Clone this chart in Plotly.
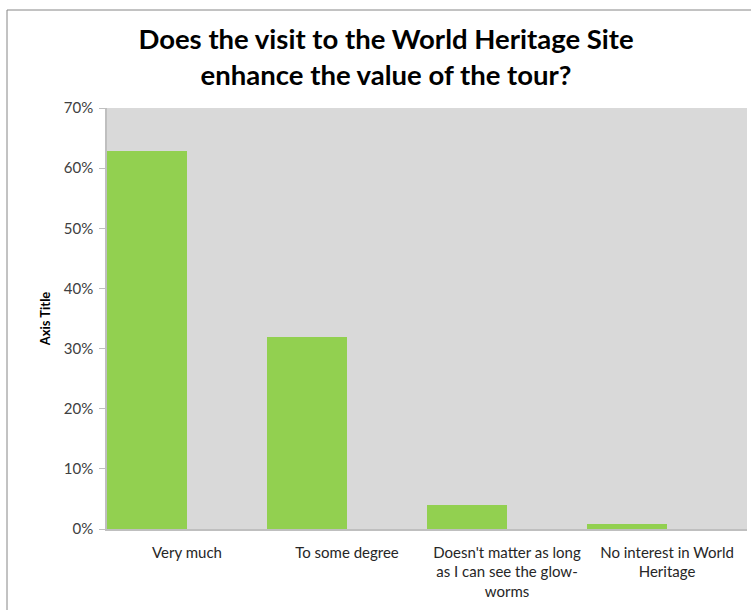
import plotly.graph_objects as go

categories = ["Very much", "To some degree",
              "Doesn't matter as long<br>as I can see the glow-<br>worms",
              "No interest in World<br>Heritage"]
values = [0.628, 0.320, 0.040, 0.009]
title_text = "Does the visit to the World Heritage Site<br>enhance the value of the tour?"
y_tickvals = [0, 0.1, 0.2, 0.3, 0.4, 0.5, 0.6, 0.7]

W, H = 751, 610
L, R, T, B = 107, 4, 108, 81
pw, ph = W - L - R, H - T - B

fig = go.Figure()
fig.add_trace(go.Bar(
    x=list(range(len(categories))), y=values,
    width=0.5, offset=-0.5,
    marker=dict(color="#92D050", line=dict(width=0)),
    hoverinfo="skip",
))

fig.update_layout(
    width=W, height=H,
    margin=dict(l=L, r=R, t=T, b=B, autoexpand=False),
    paper_bgcolor="white",
    plot_bgcolor="#D9D9D9",
    showlegend=False,
    font=dict(family="Lato, Open Sans, sans-serif", color="#262626"),
    title=dict(
        text=title_text,
        x=386 / W, xanchor="center", xref="container",
        y=1 - 49 / H, yanchor="middle", yref="container",
        font=dict(family="Lato, Open Sans, sans-serif", size=27.5, color="#000000", weight="bold"),
    ),
    bargap=0,
)

fig.update_xaxes(
    range=[-0.5, 3.5],
    tickmode="array",
    tickvals=list(range(len(categories))),
    ticktext=categories,
    tickangle=0,
    ticks="",
    showline=True, linecolor="#BFBFBF", linewidth=1.5,
    showgrid=False, zeroline=False,
    tickfont=dict(size=15, color="#262626"),
    ticklabelstandoff=9,
    fixedrange=True,
)

fig.update_yaxes(
    range=[0, 0.7],
    tickvals=y_tickvals,
    tickformat=".0%",
    ticks="outside", ticklen=6, tickcolor="#BFBFBF",
    showline=True, linecolor="#BFBFBF", linewidth=1.5,
    showgrid=False, zeroline=False,
    tickfont=dict(size=15, color="#404040"),
    ticklabelstandoff=3,
    title=dict(text="<b>Axis Title</b>", font=dict(size=13, color="#000000"), standoff=10),
    fixedrange=True,
)

# chart area frame
fig.add_shape(
    type="rect", xref="paper", yref="paper",
    x0=(7 - L) / pw, x1=(W + 20 - L) / pw,
    y0=-(B + 20) / ph, y1=(H - B - 10) / ph,
    line=dict(color="#868686", width=1), fillcolor="rgba(0,0,0,0)", layer="below",
)

fig.write_html("out.html", config={"displayModeBar": False},
               post_script="document.body.style.margin='0';")
